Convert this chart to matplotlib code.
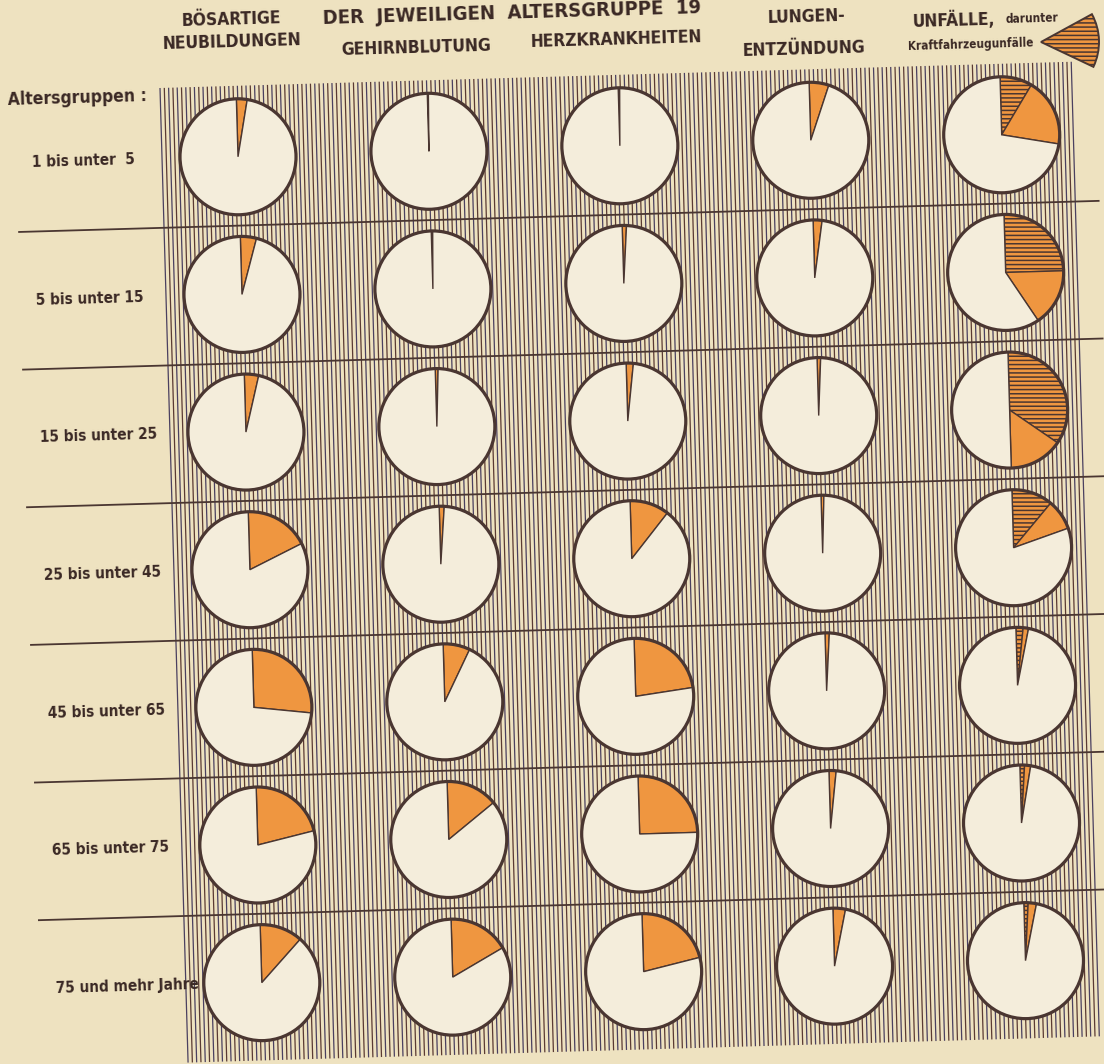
import numpy as np
import matplotlib.pyplot as plt
from matplotlib.patches import Circle, Wedge
from matplotlib.collections import LineCollection

# Data: share (%) of each cause of death in the age group
age_groups = ["1 bis unter  5", "5 bis unter 15", "15 bis unter 25", "25 bis unter 45",
              "45 bis unter 65", "65 bis unter 75", "75 und mehr Jahre"]
causes = ["BÖSARTIGE\nNEUBILDUNGEN", "GEHIRNBLUTUNG", "HERZKRANKHEITEN",
          "LUNGEN-\nENTZÜNDUNG", "UNFÄLLE"]
boesartige = [3.0, 4.5, 4.0, 18.0, 27.0, 21.5, 12.0]
gehirnblutung = [0.3, 0.4, 0.8, 1.4, 7.5, 14.5, 17.0]
herzkrankheiten = [0.4, 1.2, 2.0, 11.0, 23.0, 25.0, 21.5]
lungenentzuendung = [5.5, 2.5, 1.0, 0.8, 1.2, 2.0, 3.5]
unfaelle = [28.0, 41.0, 50.0, 20.0, 3.5, 3.0, 3.5]
kfz_unfaelle = [9.0, 25.0, 35.0, 11.5, 2.0, 1.3, 1.2]

# Colours
PAPER = '#eee2c0'
CREAM = '#f4eddb'
ORANGE = '#ef9640'
DARK = '#4a3631'
TEXT = '#3a2824'

# Layout (the printed page is slightly rotated)
W, H = 1104, 1064
ROT = 1.65
X0, Y0 = 160, 88
c, s = np.cos(np.deg2rad(ROT)), np.sin(np.deg2rad(ROT))


def to_xy(u, v):
    # page frame (u right, v down) -> axes coords (y up)
    return X0 + u * c + v * s, H - (Y0 - u * s + v * c)


U0, DU = 76, 191
V0, DV = 71, 137.7
R = 58

plt.rcParams['font.family'] = ['DejaVu Sans']
plt.rcParams['font.stretch'] = 'condensed'
plt.rcParams['hatch.linewidth'] = 1.1
fig = plt.figure(figsize=(11.04, 10.64), dpi=100)
fig.patch.set_facecolor(PAPER)
ax = fig.add_axes([0, 0, 1, 1])
ax.set_facecolor(PAPER)

# Vertical hatching behind the pies
segs = []
for u in np.arange(0, 913, 4.3):
    segs.append([to_xy(u, 0), to_xy(u, 975)])
cols = ['#5a3a33' if i % 2 else '#4a4060' for i in range(len(segs))]
ax.add_collection(LineCollection(segs, colors=cols, linewidths=0.9, zorder=1))

# Row separators
for k in range(1, len(age_groups)):
    v = V0 + (k - 0.5) * DV
    p1, p2 = to_xy(-145, v), to_xy(935, v)
    ax.plot([p1[0], p2[0]], [p1[1], p2[1]], color=DARK, lw=1.3, zorder=2)

# Pies
series = [boesartige, gehirnblutung, herzkrankheiten, lungenentzuendung]
for r in range(len(age_groups)):
    for ci in range(len(causes)):
        cx, cy = to_xy(U0 + ci * DU, V0 + r * DV)
        if ci < 4:
            val = series[ci][r]
            vals = [val, 100 - val]
            cl = [ORANGE, CREAM]
        else:
            vals = [kfz_unfaelle[r], unfaelle[r] - kfz_unfaelle[r], 100 - unfaelle[r]]
            cl = [ORANGE, ORANGE, CREAM]
        wedges, _ = ax.pie(vals, colors=cl, startangle=90 + ROT, counterclock=False,
                           center=(cx, cy), radius=R, frame=True,
                           wedgeprops=dict(edgecolor=DARK, linewidth=1.0))
        for w in wedges:
            w.set_zorder(3)
        if ci == 4:
            wedges[0].set_hatch('----')
        ax.add_patch(Circle((cx, cy), R, fill=False, ec=DARK, lw=2.3, zorder=4))

# Legend wedge for motor vehicle accidents
lx, ly = 1041, H - 42
ax.add_patch(Wedge((lx, ly), 58, -27 + ROT, 27 + ROT, fc=ORANGE, ec=DARK,
                   lw=1.4, hatch='----', zorder=3))

# Column headers
hdr = dict(fontsize=12.5, fontweight='bold', color=TEXT, ha='center', va='center',
           rotation=ROT, rotation_mode='anchor', linespacing=1.3)
ax.text(232, H - 31, causes[0], **hdr)
ax.text(416, H - 48, causes[1], **hdr)
ax.text(616, H - 40, causes[2], **hdr)
lung1, lung2 = causes[3].split("\n")
ax.text(806, H - 17, lung1, **hdr)
ax.text(804, H - 49, lung2, **hdr)
ax.text(912, H - 21, "UNFÄLLE,", fontsize=12.5, fontweight='bold', color=TEXT,
        ha='left', va='center', rotation=ROT, rotation_mode='anchor')
ax.text(1058, H - 18, "darunter", fontsize=8.5, fontweight='bold', color=TEXT,
        ha='right', va='center', rotation=ROT, rotation_mode='anchor')
ax.text(1033, H - 43, "Kraftfahrzeugunfälle", fontsize=8.5, fontweight='bold',
        color=TEXT, ha='right', va='center', rotation=ROT, rotation_mode='anchor')

# Title (cut off in the original scan)
ax.text(512, H - 13, "DER  JEWEILIGEN  ALTERSGRUPPE  19", fontsize=14.5,
        fontweight='bold', color=TEXT, ha='center', va='center',
        rotation=ROT, rotation_mode='anchor')

# Row labels
ax.text(8, H - 100, "Altersgruppen :", fontsize=12.5, fontweight='bold',
        color=TEXT, ha='left', va='center', rotation=ROT, rotation_mode='anchor')
for r, lab in enumerate(age_groups):
    x, y = to_xy(-130, V0 + r * DV)
    ax.text(x, y, lab, fontsize=11, fontweight='bold', color=TEXT,
            ha='left', va='center', rotation=ROT, rotation_mode='anchor')

ax.set_xlim(0, W)
ax.set_ylim(0, H)
ax.set_aspect('equal')
ax.axis('off')

plt.savefig("out.png", dpi=100, facecolor=PAPER)
